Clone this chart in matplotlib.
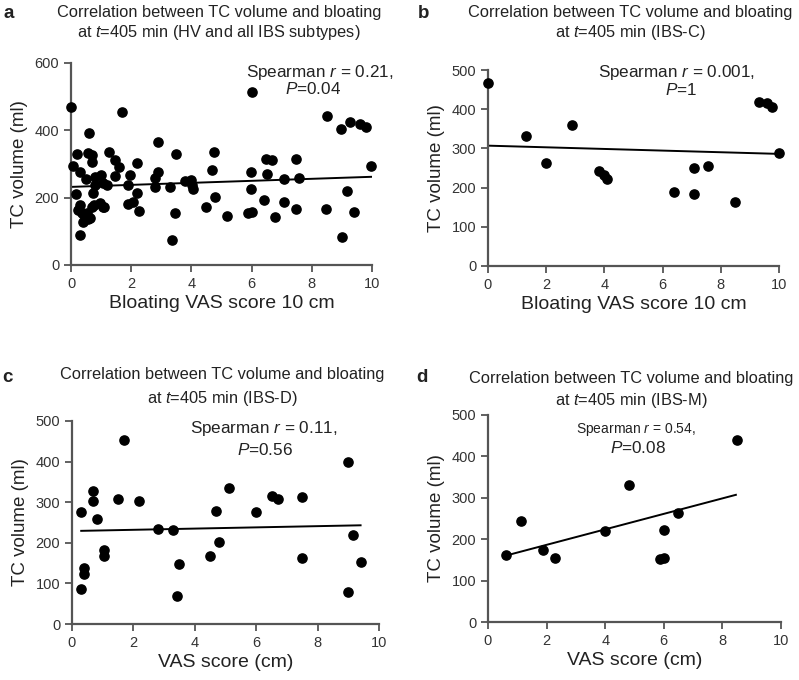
import numpy as np
import matplotlib
matplotlib.use('Agg')
import matplotlib.pyplot as plt

plt.rcParams['font.family'] = ['Liberation Sans', 'DejaVu Sans']
plt.rcParams['mathtext.fontset'] = 'custom'
plt.rcParams['mathtext.rm'] = 'Liberation Sans'
plt.rcParams['mathtext.it'] = 'Liberation Sans:italic'

# panel a - HV and all IBS subtypes
a_x = [0, 0.08, 0.16, 0.19, 0.3, 0.49, 0.6, 0.57, 0.69, 0.71, 0.74, 0.8, 0.8, 0.99, 1.07, 1.18,
       1.27, 1.46, 1.46, 1.6, 1.68, 1.88, 1.96, 2.18, 2.18, 2.07, 1.9, 2.26, 2.88, 2.9, 2.79, 2.79,
       3.29, 3.48, 3.47, 3.36, 3.8, 4.0, 4.02, 4.06, 4.47, 4.69, 4.76, 4.77, 5.17, 5.97, 5.97,
       5.88, 6.0, 6.0, 6.4, 6.49, 6.68, 6.51, 6.77, 7.08, 7.08, 7.47, 7.49, 7.58, 8.46, 8.49,
       8.98, 9.0, 9.18, 9.26, 9.39, 9.59, 9.81, 9.96,
       0.3, 0.24, 0.36, 0.46, 0.39, 0.3, 0.63, 0.69, 0.76, 0.96, 1.07, 0.52, 0.58, 1.11]
a_y = [470, 294, 211, 329, 277, 255, 391, 334, 327, 307, 213, 262, 238, 267, 243, 238,
       335, 312, 264, 292, 454, 238, 267, 304, 213, 188, 180, 160, 365, 275, 258, 233,
       233, 329, 153, 73, 250, 252, 238, 225, 171, 281, 335, 203, 146, 276, 225,
       153, 157, 514, 193, 315, 311, 269, 143, 255, 188, 166, 315, 258, 166, 444,
       404, 82, 221, 424, 157, 419, 411, 294,
       178, 163, 154, 144, 129, 89, 139, 173, 178, 183, 173, 153, 136, 171]
a_fit = (232, 3.0)

# panel b - IBS-C
b_x = [0, 1.3, 2.0, 2.9, 3.8, 4.0, 4.1, 6.4, 7.08, 7.08, 7.57, 8.5, 9.3, 9.6, 9.75, 10.0]
b_y = [467, 332, 264, 360, 243, 233, 222, 190, 249, 183, 254, 162, 418, 416, 406, 287]
b_fit = (307, -2.1)

# panel c - IBS-D
c_x = [0.3, 0.3, 0.39, 0.39, 0.68, 0.68, 0.83, 1.03, 1.03, 1.5, 1.7, 2.18, 2.8, 3.29, 3.49,
       3.42, 4.51, 4.7, 4.78, 5.1, 6.0, 6.52, 6.7, 7.48, 7.48, 9.0, 9.0, 9.16, 9.4]
c_y = [275, 86, 138, 124, 328, 303, 258, 183, 168, 308, 453, 303, 235, 232, 148,
       70, 168, 279, 202, 334, 275, 315, 308, 314, 163, 400, 80, 219, 152]
c_fit = (229, 1.5)

# panel d - IBS-M
d_x = [0.61, 1.11, 1.87, 2.29, 4.0, 4.81, 5.88, 6.0, 6.0, 6.5, 8.5]
d_y = [161, 245, 174, 154, 219, 332, 151, 154, 222, 264, 440]
d_fit = (149, 18.7)

W, H = 799, 680
fig = plt.figure(figsize=(W / 100, H / 100), dpi=100)


def px(x0, y0, x1, y1):
    # pixel box (left, top, right, bottom) -> figure fraction rect
    return [x0 / W, 1 - y1 / H, (x1 - x0) / W, (y1 - y0) / H]


def draw(rect, xs, ys, fit, ymax, xfit, xlabel):
    ax = fig.add_axes(rect)
    ax.scatter(xs, ys, s=44, color='black', zorder=3, clip_on=False)
    xf = np.array(xfit)
    ax.plot(xf, fit[0] + fit[1] * xf, color='black', lw=1.4, zorder=2)
    ax.set_xlim(0, 10)
    ax.set_ylim(0, ymax)
    ax.set_xticks([0, 2, 4, 6, 8, 10])
    ax.set_yticks(np.arange(0, ymax + 1, 100 if ymax == 500 else 200))
    for s in ['top', 'right']:
        ax.spines[s].set_visible(False)
    for s in ['left', 'bottom']:
        ax.spines[s].set_color('#555555')
        ax.spines[s].set_linewidth(1.6)
    ax.tick_params(colors='#555555', labelcolor='#333333', width=1.3, length=5,
                   labelsize=10.5)
    ax.set_xlabel(xlabel, fontsize=14, color='#222222', labelpad=3)
    ax.set_ylabel('TC volume (ml)', fontsize=13.5, color='#222222', labelpad=5)
    return ax


draw(px(71, 63, 372, 265), a_x, a_y, a_fit, 600, [0, 10], 'Bloating VAS score 10 cm')
draw(px(488, 70, 779, 266), b_x, b_y, b_fit, 500, [0, 10], 'Bloating VAS score 10 cm')
draw(px(72, 421, 379, 624), c_x, c_y, c_fit, 500, [0.3, 9.4], 'VAS score (cm)')
draw(px(488, 415, 781, 622), d_x, d_y, d_fit, 500, [0.61, 8.46], 'VAS score (cm)')


def t(x, y, s, **kw):
    fig.text(x / W, 1 - y / H, s, ha=kw.pop('ha', 'center'), va='center',
             color='#222222', **kw)


line1 = 'Correlation between TC volume and bloating'
t(4, 13, 'a', fontsize=13.5, fontweight='bold', ha='left')
t(219, 13, line1, fontsize=11.8)
t(219, 33, r'at $\it{t}$=405 min (HV and all IBS subtypes)', fontsize=11.8)
t(320, 72, r'Spearman $\it{r}$ = 0.21,', fontsize=12.3)
t(313, 89, r'$\it{P}$=0.04', fontsize=12.3)

t(418, 13, 'b', fontsize=13.5, fontweight='bold', ha='left')
t(630, 13, line1, fontsize=11.8)
t(630, 33, r'at $\it{t}$=405 min (IBS-C)', fontsize=11.8)
t(677, 72, r'Spearman $\it{r}$ = 0.001,', fontsize=12.3)
t(681, 90, r'$\it{P}$=1', fontsize=12.3)

t(2, 378, 'c', fontsize=13.5, fontweight='bold', ha='left')
t(222, 374, line1, fontsize=11.8)
t(222, 399, r'at $\it{t}$=405 min (IBS-D)', fontsize=11.8)
t(264, 429, r'Spearman $\it{r}$ = 0.11,', fontsize=12.3)
t(265, 450, r'$\it{P}$=0.56', fontsize=12.3)

t(416, 378, 'd', fontsize=13.5, fontweight='bold', ha='left')
t(631, 378, line1, fontsize=11.8)
t(631, 400, r'at $\it{t}$=405 min (IBS-M)', fontsize=11.8)
t(636, 429, r'Spearman $\it{r}$ = 0.54,', fontsize=10)
t(638, 448, r'$\it{P}$=0.08', fontsize=12.3)

fig.savefig('out.png', dpi=100)
